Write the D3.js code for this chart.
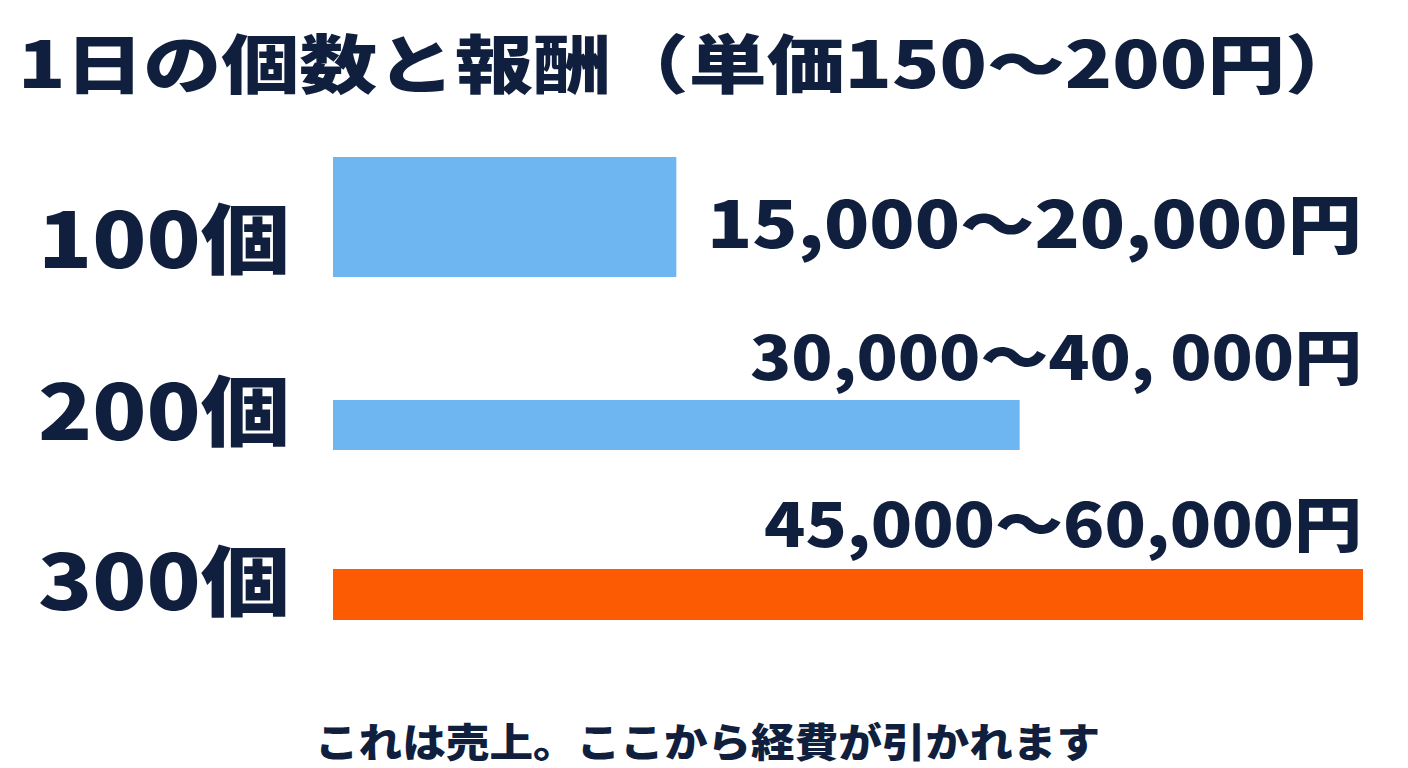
<!DOCTYPE html>
<html><head><meta charset="utf-8">
<script src="https://cdn.jsdelivr.net/npm/d3@7"></script>
<style>body{margin:0;background:#fff}text{font-family:"Noto Sans CJK JP",sans-serif;font-weight:900;fill:#0f1f3d}</style>
</head><body><svg id="c" width="1408" height="768"></svg>
<script>
const categories = ["100個", "200個", "300個"];
const maxReward = [20000, 40000, 60000];
const rewardLabels = ["15,000〜20,000円", "30,000〜40, 000円", "45,000〜60,000円"];
const title = "1日の個数と報酬（単価150〜200円）";
const footer = "これは売上。ここから経費が引かれます";

const svg = d3.select("#c");
const x = d3.scaleLinear().domain([0, 60000]).range([333, 1363]);
const barTop = [157, 400, 569], barH = [120, 50, 51];
const labelY = [268, 440, 610], valY = [248, 380, 547];
const valLen = [655, 612, 598];
const colors = ["#6db6f2", "#6db6f2", "#fc5a03"];

svg.append("text").attr("x", 18).attr("y", 88).attr("font-size", 64)
  .attr("textLength", 1345).attr("lengthAdjust","spacingAndGlyphs").text(title);
svg.selectAll("rect.b").data(maxReward).join("rect")
  .attr("x", x(0)).attr("y", (d,i)=>barTop[i])
  .attr("width", d=>x(d)-x(0)).attr("height", (d,i)=>barH[i])
  .attr("fill", (d,i)=>colors[i]);
svg.selectAll("text.c").data(categories).join("text")
  .attr("x", 38).attr("y", (d,i)=>labelY[i]).attr("font-size", 76)
  .attr("textLength", 252).attr("lengthAdjust","spacingAndGlyphs").text(d=>d);
svg.selectAll("text.v").data(rewardLabels).join("text")
  .attr("x", (d,i)=>1362-valLen[i]).attr("y", (d,i)=>valY[i])
  .attr("font-size", (d,i)=>i==0?64:60)
  .attr("textLength", (d,i)=>valLen[i]).attr("lengthAdjust","spacingAndGlyphs").text(d=>d);
svg.append("text").attr("x", 315).attr("y", 757).attr("font-size", 40)
  .attr("textLength", 785).attr("lengthAdjust","spacingAndGlyphs").text(footer);
</script></body></html>
